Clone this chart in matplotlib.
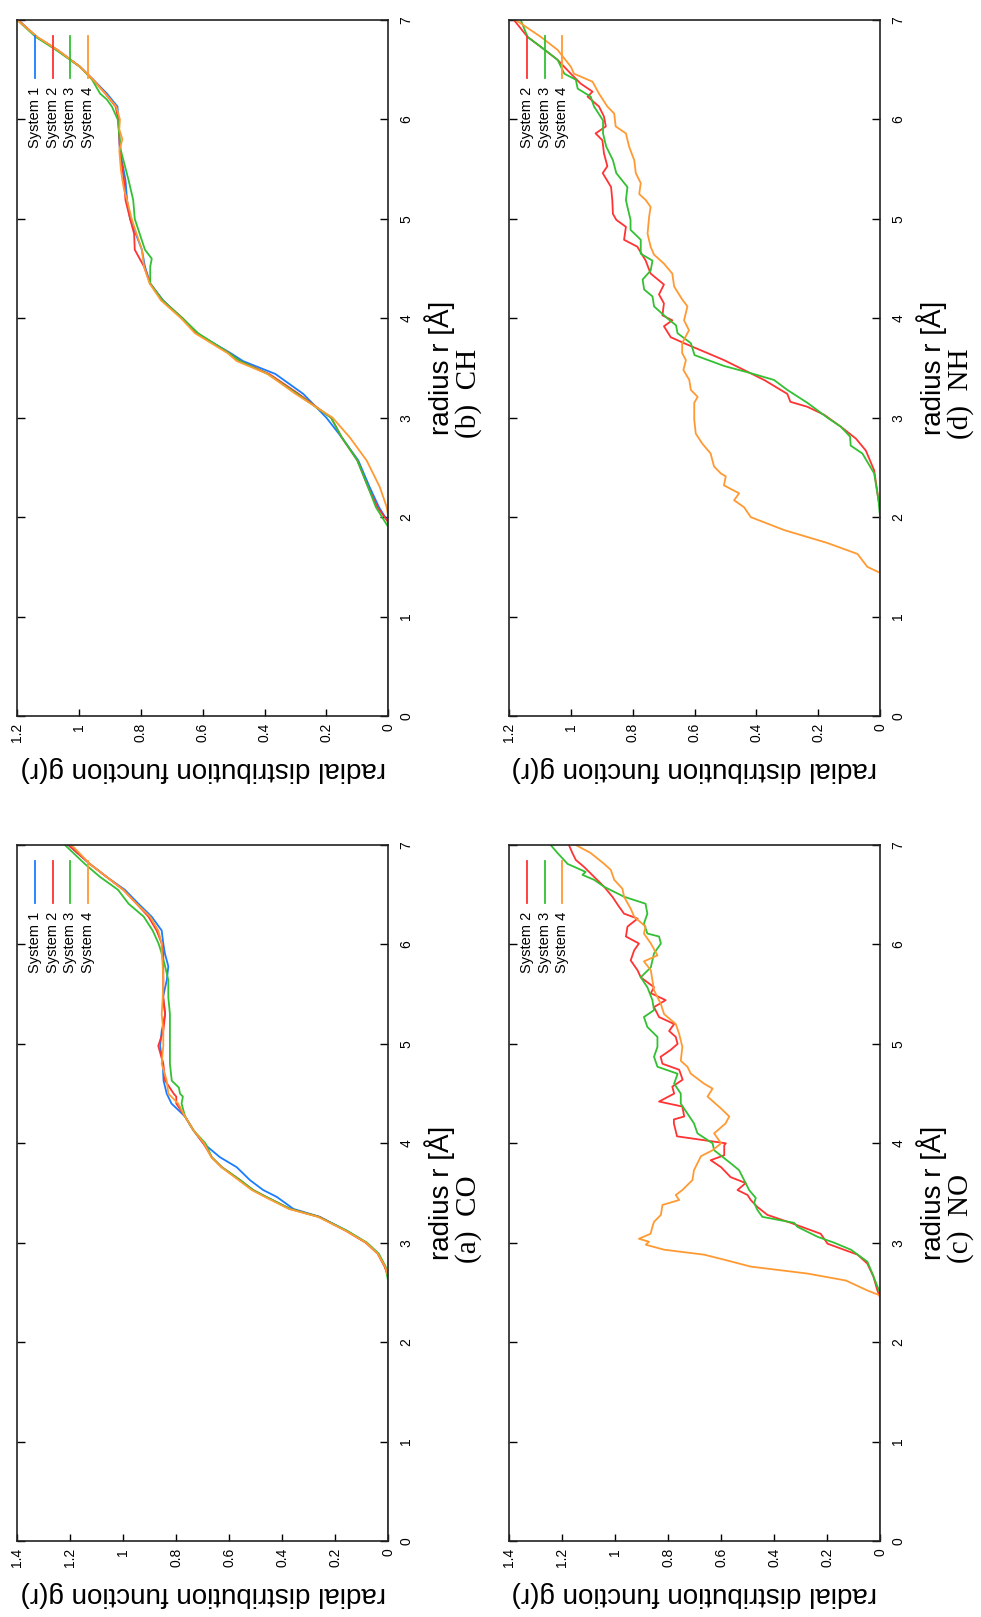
import matplotlib
matplotlib.use("Agg")
import matplotlib.pyplot as plt
from matplotlib.lines import Line2D

plt.rcParams["font.family"] = ["Liberation Sans", "DejaVu Sans"]

# Data: radius r [Å] and g(r)

# (a) CO
co_r1 = [0, 2.66, 2.76, 2.89, 3.0, 3.12, 3.26, 3.34, 3.46, 3.53, 3.63, 3.76, 3.86, 4.0, 4.13, 4.27, 4.4, 4.5,
         4.63, 4.8, 4.98, 5.13, 5.3, 5.47, 5.64, 5.78, 5.91, 6.01, 6.14, 6.28, 6.41, 6.55, 6.68, 6.81, 7.0]
co_g1 = [0, 0, 0.012, 0.038, 0.082, 0.157, 0.258, 0.358, 0.42, 0.472, 0.522, 0.572, 0.635, 0.698, 0.735, 0.767,
         0.818, 0.836, 0.848, 0.851, 0.861, 0.855, 0.842, 0.85, 0.836, 0.83, 0.843, 0.849, 0.855, 0.893, 0.943,
         0.994, 1.063, 1.126, 1.207]
co_r2 = [0, 2.66, 2.76, 2.89, 3.0, 3.12, 3.26, 3.34, 3.46, 3.53, 3.63, 3.76, 3.86, 4.0, 4.13, 4.27, 4.4, 4.47,
         4.5, 4.63, 4.8, 4.98, 5.13, 5.3, 5.47, 5.64, 5.78, 5.91, 6.01, 6.14, 6.28, 6.41, 6.55, 6.68, 6.81, 7.0]
co_g2 = [0, 0, 0.014, 0.04, 0.085, 0.16, 0.26, 0.37, 0.46, 0.51, 0.559, 0.628, 0.666, 0.698, 0.735, 0.767, 0.8,
         0.8, 0.81, 0.842, 0.849, 0.868, 0.849, 0.842, 0.849, 0.849, 0.849, 0.849, 0.855, 0.874, 0.905, 0.95,
         1.0, 1.063, 1.126, 1.207]
co_r3 = [0, 2.6, 2.76, 2.89, 3.0, 3.12, 3.26, 3.34, 3.46, 3.53, 3.63, 3.76, 3.86, 4.0, 4.13, 4.27, 4.4, 4.47,
         4.5, 4.56, 4.63, 4.8, 4.98, 5.13, 5.3, 5.47, 5.64, 5.78, 5.91, 6.01, 6.14, 6.28, 6.41, 6.55, 6.68,
         6.81, 7.0]
co_g3 = [0, 0, 0.01, 0.036, 0.08, 0.155, 0.262, 0.37, 0.46, 0.51, 0.559, 0.628, 0.666, 0.69, 0.735, 0.767,
         0.78, 0.775, 0.786, 0.79, 0.817, 0.824, 0.824, 0.824, 0.824, 0.83, 0.83, 0.842, 0.855, 0.867, 0.889,
         0.923, 0.98, 1.02, 1.088, 1.145, 1.22]
co_r4 = [0, 2.66, 2.76, 2.89, 3.0, 3.12, 3.26, 3.34, 3.46, 3.53, 3.63, 3.76, 3.86, 4.0, 4.13, 4.27, 4.4, 4.5,
         4.63, 4.8, 4.98, 5.13, 5.3, 5.47, 5.64, 5.78, 5.91, 6.01, 6.14, 6.28, 6.41, 6.55, 6.68, 6.81, 7.0]
co_g4 = [0, 0, 0.012, 0.04, 0.083, 0.16, 0.265, 0.375, 0.465, 0.515, 0.565, 0.63, 0.668, 0.695, 0.735, 0.767,
         0.793, 0.83, 0.836, 0.855, 0.849, 0.849, 0.855, 0.851, 0.849, 0.851, 0.855, 0.855, 0.868, 0.899, 0.95,
         1.0, 1.063, 1.126, 1.195]

# (b) CH
ch_r1 = [0, 1.95, 2.1, 2.3, 2.57, 2.8, 3.0, 3.24, 3.44, 3.57, 3.65, 3.85, 4.0, 4.18, 4.35, 4.52, 4.69, 5.0,
         5.19, 5.39, 5.69, 6.0, 6.13, 6.26, 6.4, 6.53, 6.7, 6.83, 7.0]
ch_g1 = [0, 0, 0.03, 0.06, 0.097, 0.15, 0.2, 0.275, 0.365, 0.47, 0.51, 0.62, 0.668, 0.728, 0.77, 0.787, 0.797,
         0.835, 0.845, 0.85, 0.868, 0.873, 0.876, 0.91, 0.954, 0.997, 1.072, 1.137, 1.197]
ch_r2 = [0, 1.95, 2.1, 2.3, 2.57, 2.8, 3.0, 3.24, 3.44, 3.57, 3.65, 3.85, 4.0, 4.18, 4.35, 4.52, 4.69, 4.85,
         5.0, 5.19, 5.39, 5.69, 6.0, 6.13, 6.26, 6.4, 6.53, 6.7, 6.83, 7.0]
ch_g2 = [0, 0, 0.035, 0.065, 0.1, 0.15, 0.185, 0.29, 0.385, 0.48, 0.515, 0.62, 0.665, 0.73, 0.77, 0.79, 0.82,
         0.822, 0.835, 0.85, 0.855, 0.868, 0.873, 0.882, 0.915, 0.955, 0.997, 1.07, 1.137, 1.197]
ch_r3 = [0, 1.9, 2.1, 2.3, 2.57, 2.8, 3.0, 3.24, 3.44, 3.57, 3.65, 3.85, 4.0, 4.18, 4.35, 4.52, 4.6, 4.69, 5.0,
         5.19, 5.39, 5.69, 6.0, 6.13, 6.2, 6.26, 6.4, 6.53, 6.7, 6.83, 7.0]
ch_g3 = [0, 0, 0.04, 0.065, 0.1, 0.15, 0.185, 0.295, 0.39, 0.48, 0.515, 0.615, 0.665, 0.73, 0.77, 0.77, 0.765,
         0.787, 0.82, 0.825, 0.84, 0.865, 0.875, 0.894, 0.91, 0.932, 0.958, 0.997, 1.075, 1.14, 1.2]
ch_r4 = [0, 2.0, 2.1, 2.3, 2.57, 2.8, 3.0, 3.24, 3.44, 3.57, 3.65, 3.85, 4.0, 4.18, 4.35, 4.52, 4.69, 5.0, 5.19,
         5.3, 5.39, 5.5, 5.69, 5.8, 5.9, 6.0, 6.13, 6.26, 6.4, 6.53, 6.7, 6.83, 7.0]
ch_g4 = [0, 0, 0.005, 0.027, 0.07, 0.124, 0.18, 0.3, 0.39, 0.49, 0.52, 0.625, 0.67, 0.735, 0.772, 0.79, 0.797,
         0.83, 0.845, 0.855, 0.86, 0.865, 0.87, 0.86, 0.87, 0.868, 0.88, 0.915, 0.955, 0.997, 1.07, 1.135, 1.2]

# (c) NO
no_r2 = [0, 2.45, 2.52, 2.66, 2.79, 2.88, 2.99, 3.09, 3.2, 3.28, 3.36, 3.43, 3.48, 3.53, 3.6, 3.66, 3.76, 3.83,
         3.88, 3.98, 4.0, 4.07, 4.2, 4.24, 4.27, 4.37, 4.42, 4.5, 4.57, 4.64, 4.74, 4.8, 4.87, 4.94, 5.0, 5.07,
         5.13, 5.2, 5.27, 5.37, 5.44, 5.51, 5.57, 5.62, 5.67, 5.74, 5.84, 5.94, 6.01, 6.08, 6.18, 6.26, 6.31,
         6.38, 6.48, 6.58, 6.68, 6.78, 6.85, 6.92, 7.0]
no_g2 = [0, 0, 0.01, 0.025, 0.048, 0.085, 0.198, 0.224, 0.337, 0.425, 0.463, 0.488, 0.5, 0.538, 0.507, 0.564,
         0.6, 0.639, 0.588, 0.588, 0.582, 0.766, 0.778, 0.778, 0.739, 0.746, 0.834, 0.777, 0.784, 0.745, 0.758,
         0.821, 0.828, 0.79, 0.764, 0.771, 0.796, 0.777, 0.834, 0.853, 0.809, 0.865, 0.853, 0.878, 0.903, 0.915,
         0.941, 0.928, 0.91, 0.959, 0.953, 0.915, 0.966, 0.985, 1.01, 1.041, 1.079, 1.117, 1.148, 1.161, 1.174]
no_r3 = [0, 2.5, 2.56, 2.69, 2.81, 2.93, 3.0, 3.06, 3.16, 3.2, 3.26, 3.33, 3.4, 3.45, 3.53, 3.63, 3.73, 3.8,
         3.93, 4.0, 4.1, 4.2, 4.3, 4.4, 4.5, 4.6, 4.7, 4.77, 4.87, 4.97, 5.07, 5.17, 5.27, 5.34, 5.44, 5.57,
         5.67, 5.77, 5.91, 6.01, 6.08, 6.11, 6.21, 6.31, 6.41, 6.48, 6.58, 6.65, 6.7, 6.73, 6.81, 6.92, 7.0]
no_g3 = [0, 0, 0.01, 0.029, 0.048, 0.11, 0.173, 0.236, 0.312, 0.324, 0.444, 0.463, 0.475, 0.469, 0.494, 0.513,
         0.532, 0.564, 0.626, 0.632, 0.689, 0.702, 0.727, 0.752, 0.752, 0.777, 0.764, 0.84, 0.853, 0.84, 0.84,
         0.878, 0.891, 0.853, 0.859, 0.878, 0.903, 0.865, 0.853, 0.827, 0.834, 0.878, 0.891, 0.878, 0.885,
         0.966, 1.041, 1.079, 1.123, 1.111, 1.179, 1.217, 1.243]
no_r4 = [0, 2.47, 2.52, 2.62, 2.69, 2.76, 2.83, 2.88, 2.93, 2.98, 3.01, 3.04, 3.09, 3.16, 3.21, 3.28, 3.38,
         3.43, 3.48, 3.53, 3.63, 3.73, 3.87, 3.93, 4.0, 4.1, 4.2, 4.27, 4.35, 4.47, 4.55, 4.6, 4.7, 4.77, 4.83,
         4.97, 5.1, 5.2, 5.3, 5.4, 5.54, 5.64, 5.74, 5.83, 5.89, 6.01, 6.11, 6.18, 6.28, 6.36, 6.48, 6.56,
         6.65, 6.75, 6.81, 6.92, 7.0]
no_g4 = [0, 0, 0.048, 0.129, 0.274, 0.488, 0.589, 0.664, 0.815, 0.884, 0.872, 0.91, 0.866, 0.859, 0.853, 0.827,
         0.821, 0.758, 0.771, 0.746, 0.708, 0.702, 0.676, 0.632, 0.6, 0.626, 0.583, 0.569, 0.6, 0.651, 0.632,
         0.664, 0.714, 0.727, 0.752, 0.746, 0.758, 0.771, 0.815, 0.827, 0.853, 0.859, 0.865, 0.891, 0.84, 0.865,
         0.891, 0.885, 0.928, 0.941, 0.966, 0.972, 1.003, 1.016, 1.041, 1.092, 1.148]

# (d) NH
nh_r2 = [0, 2.1, 2.17, 2.47, 2.67, 2.79, 2.91, 3.03, 3.11, 3.16, 3.24, 3.38, 3.48, 3.58, 3.75, 3.81, 3.92,
         3.98, 4.03, 4.15, 4.24, 4.34, 4.45, 4.58, 4.72, 4.79, 4.92, 4.99, 5.05, 5.19, 5.32, 5.46, 5.53, 5.66,
         5.79, 5.86, 5.93, 6.03, 6.13, 6.23, 6.28, 6.36, 6.46, 6.6, 6.73, 6.83, 7.0]
nh_g2 = [0, 0, 0.005, 0.019, 0.046, 0.078, 0.127, 0.181, 0.235, 0.29, 0.30, 0.375, 0.44, 0.505, 0.634, 0.677,
         0.699, 0.672, 0.704, 0.699, 0.715, 0.699, 0.742, 0.758, 0.785, 0.828, 0.822, 0.853, 0.864, 0.866, 0.87,
         0.897, 0.882, 0.893, 0.898, 0.92, 0.887, 0.893, 0.909, 0.946, 0.93, 0.968, 1.0, 1.043, 1.097, 1.14,
         1.184]
nh_r3 = [0, 2.0, 2.17, 2.44, 2.64, 2.72, 2.81, 2.91, 3.0, 3.15, 3.28, 3.38, 3.45, 3.52, 3.63, 3.75, 3.85, 3.93,
         4.0, 4.12, 4.22, 4.29, 4.39, 4.48, 4.58, 4.65, 4.79, 4.89, 4.99, 5.12, 5.19, 5.32, 5.46, 5.59, 5.73,
         5.86, 5.99, 6.13, 6.23, 6.31, 6.4, 6.46, 6.6, 6.73, 6.83, 7.0]
nh_g3 = [0, 0, 0.005, 0.019, 0.057, 0.095, 0.097, 0.127, 0.17, 0.235, 0.30, 0.343, 0.42, 0.504, 0.6, 0.612,
         0.655, 0.66, 0.688, 0.731, 0.736, 0.763, 0.768, 0.742, 0.736, 0.774, 0.774, 0.807, 0.807, 0.817, 0.822,
         0.817, 0.853, 0.864, 0.886, 0.896, 0.896, 0.925, 0.936, 0.978, 0.984, 1.021, 1.043, 1.097, 1.14, 1.162]
nh_r4 = [0, 1.44, 1.5, 1.63, 1.74, 1.87, 2.0, 2.1, 2.17, 2.24, 2.32, 2.41, 2.44, 2.51, 2.64, 2.74, 2.84, 2.98,
         3.15, 3.21, 3.28, 3.38, 3.48, 3.58, 3.65, 3.75, 3.88, 3.98, 4.12, 4.19, 4.32, 4.45, 4.55, 4.64, 4.72,
         4.85, 5.02, 5.12, 5.19, 5.25, 5.36, 5.46, 5.59, 5.73, 5.86, 5.93, 6.06, 6.13, 6.26, 6.38, 6.46, 6.53,
         6.7, 6.83, 7.0]
nh_g4 = [0, 0, 0.041, 0.073, 0.17, 0.31, 0.418, 0.44, 0.472, 0.456, 0.505, 0.499, 0.515, 0.537, 0.548, 0.575,
         0.596, 0.601, 0.601, 0.59, 0.612, 0.617, 0.636, 0.628, 0.64, 0.64, 0.618, 0.634, 0.623, 0.64, 0.666,
         0.672, 0.699, 0.731, 0.742, 0.752, 0.747, 0.742, 0.758, 0.779, 0.774, 0.79, 0.795, 0.812, 0.822, 0.855,
         0.86, 0.882, 0.909, 0.93, 0.99, 1.0, 1.043, 1.097, 1.178]

r_ticks = [0, 1, 2, 3, 4, 5, 6, 7]
g_ticks_12 = [0, 0.2, 0.4, 0.6, 0.8, 1, 1.2]
g_ticks_14 = [0, 0.2, 0.4, 0.6, 0.8, 1, 1.2, 1.4]

colors = {"System 1": "#1a7dff", "System 2": "#ff3333", "System 3": "#33c033", "System 4": "#ff9a33"}

# page is turned: g(r) runs right to left, r runs bottom to top
panels = [
    ([0.0176, 0.5572, 0.3782, 0.4304], 1.2, g_ticks_12, "(b)  CH",
     [("System 1", ch_r1, ch_g1), ("System 2", ch_r2, ch_g2), ("System 3", ch_r3, ch_g3), ("System 4", ch_r4, ch_g4)]),
    ([0.5189, 0.5572, 0.3782, 0.4304], 1.2, g_ticks_12, "(d)  NH",
     [("System 2", nh_r2, nh_g2), ("System 3", nh_r3, nh_g3), ("System 4", nh_r4, nh_g4)]),
    ([0.0176, 0.0470, 0.3782, 0.4304], 1.4, g_ticks_14, "(a)  CO",
     [("System 1", co_r1, co_g1), ("System 2", co_r2, co_g2), ("System 3", co_r3, co_g3), ("System 4", co_r4, co_g4)]),
    ([0.5189, 0.0470, 0.3782, 0.4304], 1.4, g_ticks_14, "(c)  NO",
     [("System 2", no_r2, no_g2), ("System 3", no_r3, no_g3), ("System 4", no_r4, no_g4)]),
]

fig = plt.figure(figsize=(9.81, 16.17), dpi=100)

for rect, gmax, gticks, caption, curves in panels:
    ax = fig.add_axes(rect)
    for name, r, g in curves:
        ax.plot(g, r, color=colors[name], lw=1.3)

    ax.set_xlim(gmax, 0)
    ax.set_ylim(0, 7)
    ax.set_xticks(gticks)
    ax.set_xticklabels([f"{v:g}" for v in gticks])
    ax.set_yticks(r_ticks)
    ax.tick_params(axis="x", direction="in", length=5, width=1, bottom=True, top=False,
                   labelrotation=90, labelsize=10, pad=5)
    ax.tick_params(axis="y", direction="in", length=5.5, width=1, left=True, right=True,
                   labelleft=False, labelright=True, labelrotation=90, labelsize=10, pad=8)
    plt.setp(ax.get_yticklabels(), va="center")
    for s in ax.spines.values():
        s.set_linewidth(1.2)
        s.set_color("#222222")

    ax.set_xlabel("radial distribution function g(r)", fontsize=20, rotation=180, labelpad=10)
    ax.yaxis.set_label_position("right")
    ax.set_ylabel("radius r [Å]", fontsize=20, rotation=90, labelpad=8)

    # key, drawn by hand so the text can be turned
    for i, (name, r, g) in enumerate(curves):
        x = 0.048 + i * 0.0477
        ax.add_line(Line2D([x, x], [0.917, 0.977], transform=ax.transAxes, color=colors[name], lw=1.3))
        ax.text(x, 0.904, name, transform=ax.transAxes, rotation=90, ha="center", va="top", fontsize=10.5)

    cx = rect[0] + rect[2] + 0.082
    cy = rect[1] + rect[3] / 2 - 0.016
    fig.text(cx, cy, caption, rotation=90, ha="center", va="center", fontsize=21,
             family=["Liberation Serif", "DejaVu Serif"])

fig.savefig("out.png", dpi=100)
